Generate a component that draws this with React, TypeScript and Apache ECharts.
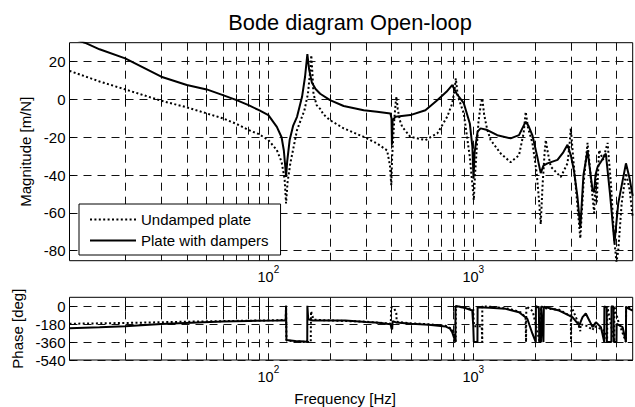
import React, { useEffect, useRef } from 'react';
import * as echarts from 'echarts';

// ---------- data (frequency in Hz, magnitude in dB, phase in deg) ----------
const undampedMagFreq = [10.7, 15, 20, 30, 40, 50, 60, 70, 80, 90, 100, 110, 116, 120, 122, 124, 128, 138, 150, 156, 160, 162, 164, 166, 172, 179, 186, 200, 233, 292, 339, 380, 392, 398, 402, 412, 418, 422, 428, 438, 450, 493, 584, 667, 746, 790, 810, 822, 840, 870, 899, 962, 990, 1006, 1020, 1060, 1090, 1107, 1130, 1170, 1216, 1361, 1522, 1672, 1760, 1803, 1850, 1944, 2040, 2100, 2134, 2180, 2230, 2259, 2310, 2390, 2673, 2884, 2950, 2993, 3080, 3228, 3330, 3450, 3612, 3700, 3821, 3891, 3960, 4000, 4115, 4300, 4525, 4700, 4877, 5000, 5100, 5300, 5562, 5800, 5996];
const undampedMag = [15.1, 9.5, 5.3, -0.7, -4.2, -7.4, -10, -13, -16.2, -18.4, -21.5, -26.8, -33, -42, -55, -44, -33.8, -16.2, -5.7, 3, 15, 23.4, 14, 3, -3, -5, -8, -11, -15.3, -19.8, -23.3, -27, -35, -45.3, -30, -10, -2, 1.4, -5, -11, -14.5, -19.8, -21.5, -18, -9.2, -2, 5, 11.1, 2, -3, -7.4, -30.4, -45, -53.3, -40, -12, -2, 0.5, -8, -16, -21.5, -28.6, -33.2, -29.5, -18, -6.6, -15, -23, -39, -55, -66, -45, -28, -21.5, -28, -35.6, -41, -33.8, -24, -15.3, -32, -56.8, -73.5, -45, -23, -35, -51.5, -60, -42, -55, -26.8, -32, -23, -45, -74.4, -86, -80, -55, -39, -48, -62];

const dampedMagFreq = [10.7, 12.7, 15, 20, 30, 40, 50, 60, 70, 80, 90, 100, 110, 116, 119, 121, 122, 123.5, 127, 132, 138, 146, 151, 155, 158, 163, 170, 179, 200, 233, 292, 339, 394, 399, 401, 404, 417, 493, 584, 667, 740, 789, 830, 899, 962, 990, 1003, 1015, 1050, 1086, 1171, 1310, 1522, 1672, 1760, 1803, 1860, 1944, 2050, 2134, 2200, 2302, 2577, 2750, 2884, 3000, 3105, 3228, 3330, 3450, 3612, 3700, 3821, 3891, 3950, 4047, 4200, 4436, 4650, 4888, 5100, 5562, 5800, 5996];
const dampedMag = [33, 30, 26.5, 21.7, 12, 7.6, 5.3, 2.3, -0.4, -3, -5.7, -8.3, -14.5, -20, -27, -36, -41, -33, -21.5, -14, -9.2, 1.4, 12, 24, 16, 9, 5.5, 3, -0.4, -3.5, -5.7, -6.5, -7.4, -10, -24, -11, -9.2, -8.3, -5.7, -0.4, 4, 7.6, 3, -2, -12.7, -25, -42, -28, -17, -15.3, -16.2, -18.9, -20.6, -18.9, -14, -11.8, -14, -19, -30, -39, -35, -33.8, -32, -28, -24, -30, -38, -52, -68, -40, -27, -36, -48, -49, -40, -35.6, -33, -28.6, -50, -76, -55, -33.8, -42, -51];

const undampedPhaseFreq = [10.7, 20, 40, 80, 121.5, 122, 122.5, 150, 161, 161.5, 164, 167, 200, 300, 396, 397, 410, 421, 423, 500, 600, 730, 790, 815, 821, 822, 900, 1000, 1005, 1010, 1100, 1106, 1107, 1300, 1500, 1700, 1800, 1810, 1815, 1950, 2100, 2134, 2140, 2259, 2624, 2993, 3000, 3010, 3228, 3330, 3340, 3612, 3821, 3900, 4115, 4400, 4500, 4510, 4877, 4880, 5100, 5562, 5570, 5996];
const undampedPhase = [-176, -168, -155, -145, -138, 5, -345, -358, -360, -50, -100, -135, -143, -155, -175, -10, -20, -60, -155, -172, -180, -195, -230, -300, -360, 0, -15, -30, -150, -200, -200, -360, 0, -10, -25, -60, -110, -360, 0, -50, -340, -360, 0, -20, -35, -100, -360, 0, -150, -250, -180, -200, -240, -200, -220, -250, -360, 0, -360, 0, -150, -360, 0, -30];

const dampedPhaseFreq = [10.7, 15, 20, 30, 45, 60, 80, 110, 121.5, 122, 122.5, 135, 150, 154.8, 155, 156.5, 165, 237, 300, 345, 395, 399, 402, 404, 420, 500, 606, 731, 770, 789, 810, 818, 819, 851, 920, 989, 1000, 1006, 1048, 1050, 1200, 1438, 1672, 1836, 1944, 2019, 2022, 2090, 2100, 2140, 2145, 2200, 2210, 2259, 2624, 3049, 3289, 3415, 3542, 3700, 3821, 3966, 4198, 4357, 4365, 4480, 4490, 4720, 4730, 4840, 4850, 5000, 5010, 5357, 5562, 5570, 5996];
const dampedPhase = [-220, -212, -200, -178, -163, -153, -147, -143, -140, 5, -340, -348, -355, -360, 5, -130, -143, -143, -158, -166, -180, -225, -230, -150, -162, -175, -186, -203, -225, -260, -330, -360, 0, -3, -20, -43, -200, -360, -360, -10, -15, -26, -60, -126, -276, -360, 0, -15, -360, -360, 0, -360, -5, -10, -43, -110, -193, -110, -73, -150, -210, -160, -210, -360, 0, -15, -360, -360, 0, -5, -360, -360, -176, -210, -360, -10, -43];

const magTickValues = [-80, -60, -40, -20, 0, 20];
const phaseTickValues = [-540, -360, -180, 0];
const decadeExponents = [2, 3];
const gridFrequencies = [20, 30, 40, 50, 60, 70, 80, 90, 100, 200, 300, 400, 500, 600, 700, 800, 900, 1000, 2000, 3000, 4000, 5000];

const seriesNames = ['Undamped plate', 'Plate with dampers'];
const titleText = 'Bode diagram Open-loop';

// ---------- helpers ----------
const lg = Math.log10;
const pairs = (f: number[], v: number[]) => f.map((x, i) => [lg(x), v[i]]);
const FONT = "'Liberation Sans', Arial, Helvetica, sans-serif";
const X_MIN = lg(10.7);
const X_MAX = lg(6000);
const GRID_LINE = { color: '#111', width: 1, type: [8, 6] as any };
const TICK = { color: '#000', width: 1 };

function makeXAxes(gridIndex: number, labelMargin: number, name: string) {
  const xTicks = gridFrequencies.map(lg);
  return [
    {
      type: 'value', gridIndex, min: X_MIN, max: X_MAX, position: 'bottom',
      axisLine: { show: false },
      axisTick: { show: true, inside: true, length: 5, customValues: xTicks, lineStyle: TICK },
      splitLine: { show: true, lineStyle: GRID_LINE },
      axisLabel: {
        customValues: decadeExponents,
        margin: labelMargin,
        formatter: (v: number) => `{b|10}{s|${Math.round(v)}}`,
        rich: {
          b: { fontSize: 14.5, fontFamily: FONT, color: '#000', verticalAlign: 'bottom', lineHeight: 14 },
          s: { fontSize: 10, fontFamily: FONT, color: '#000', verticalAlign: 'bottom', lineHeight: 10, padding: [0, 0, 10, 0] },
        },
      },
      name, nameLocation: 'middle', nameGap: 31,
      nameTextStyle: { fontSize: 15, fontFamily: FONT, color: '#000', padding: [0, 12, 0, 0] },
    },
    {
      type: 'value', gridIndex, min: X_MIN, max: X_MAX, position: 'top',
      axisLine: { show: false },
      axisTick: { show: true, inside: true, length: 5, customValues: xTicks, lineStyle: TICK },
      splitLine: { show: false },
      axisLabel: { show: false },
    },
  ];
}

function makeYAxes(gridIndex: number, min: number, max: number, ticks: number[], name: string, nameGap: number) {
  return [
    {
      type: 'value', gridIndex, min, max, position: 'left',
      axisLine: { show: false },
      axisTick: { show: true, inside: true, length: 5, customValues: ticks, lineStyle: TICK },
      splitLine: { show: true, lineStyle: GRID_LINE },
      axisLabel: { customValues: ticks, margin: 4, fontSize: 15, fontFamily: FONT, color: '#000' },
      name, nameLocation: 'middle', nameGap,
      nameTextStyle: { fontSize: 15, fontFamily: FONT, color: '#000' },
    },
    {
      type: 'value', gridIndex, min, max, position: 'right',
      axisLine: { show: false },
      axisTick: { show: true, inside: true, length: 5, customValues: ticks, lineStyle: TICK },
      splitLine: { show: false },
      axisLabel: { show: false },
    },
  ];
}

const lineSeries = (name: string, x: number, y: number, data: number[][], dotted: boolean) => ({
  type: 'line', name, xAxisIndex: x, yAxisIndex: y, data,
  symbol: 'none', showSymbol: false, clip: true,
  lineStyle: { color: '#000', width: 2, type: dotted ? [2, 2.4] : 'solid' },
  itemStyle: { color: '#000' },
  z: dotted ? 2 : 3,
});

export default function App() {
  const ref = useRef<HTMLDivElement>(null);
  useEffect(() => {
    if (!ref.current) return;
    const chart = echarts.init(ref.current, undefined, { renderer: 'svg' });
    const gridCommon = {
      left: 69.5, width: 563.2, show: true, borderColor: '#000', borderWidth: 1,
      backgroundColor: 'transparent', containLabel: false, outerBoundsMode: 'none',
    };
    chart.setOption({
      animation: false,
      backgroundColor: '#fff',
      textStyle: { fontFamily: FONT },
      graphic: [
        {
          type: 'text', x: 350, y: 22,
          style: {
            text: titleText, fontSize: 21.8, fontFamily: FONT, fill: '#000',
            align: 'center', verticalAlign: 'middle', textAlign: 'center', textVerticalAlign: 'middle',
          },
        },
      ],
      grid: [
        { ...gridCommon, top: 42.7, height: 218 },
        { ...gridCommon, top: 297.3, height: 62.7 },
      ],
      xAxis: [...makeXAxes(0, 10, ''), ...makeXAxes(1, 10, 'Frequency [Hz]')],
      yAxis: [
        ...makeYAxes(0, -85.3, 30, magTickValues, 'Magnitude [m/N]', 36),
        ...makeYAxes(1, -540, 90, phaseTickValues, 'Phase [deg]', 44),
      ],
      legend: {
        data: seriesNames, orient: 'vertical', left: 79, top: 204,
        itemWidth: 46, itemHeight: 15, itemGap: 6, padding: [8, 12, 7, 10],
        backgroundColor: '#fff', borderColor: '#000', borderWidth: 1, borderRadius: 0,
        textStyle: { fontSize: 15, fontFamily: FONT, color: '#000' },
        itemStyle: { color: 'transparent', borderColor: 'transparent', borderWidth: 0, opacity: 0 },
        selectedMode: false, z: 10,
      },
      series: [
        lineSeries(seriesNames[0], 0, 0, pairs(undampedMagFreq, undampedMag), true),
        lineSeries(seriesNames[1], 0, 0, pairs(dampedMagFreq, dampedMag), false),
        lineSeries(seriesNames[0], 2, 2, pairs(undampedPhaseFreq, undampedPhase), true),
        lineSeries(seriesNames[1], 2, 2, pairs(dampedPhaseFreq, dampedPhase), false),
      ],
    });
    return () => chart.dispose();
  }, []);
  return (
    <div
      ref={ref}
      style={{ position: 'fixed', left: 0, top: 0, width: 635, height: 407, background: '#fff' }}
    />
  );
}
